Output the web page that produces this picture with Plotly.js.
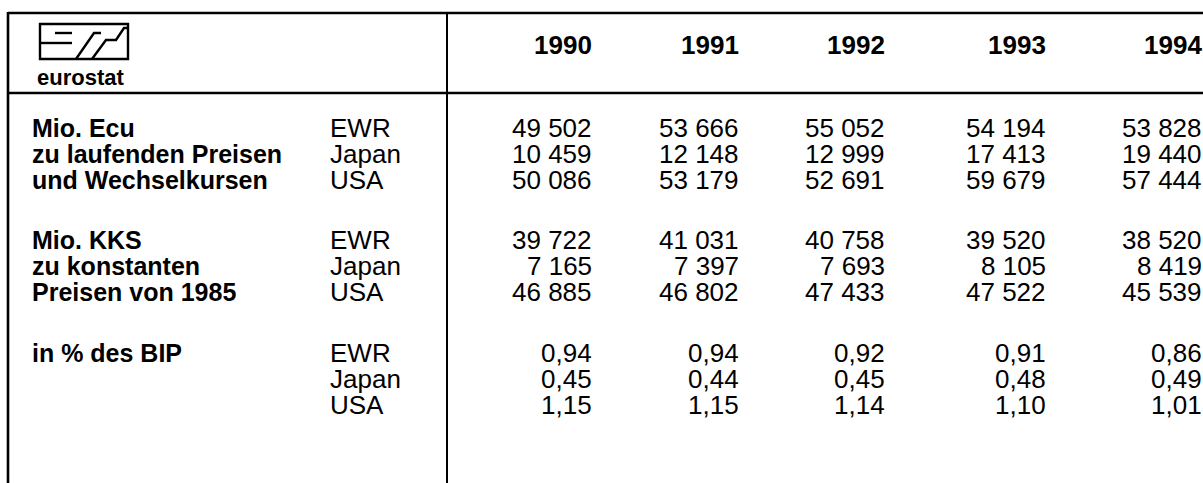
<!DOCTYPE html>
<html>
<head>
<meta charset="utf-8">
<script src="https://cdn.plot.ly/plotly-3.0.1.min.js"></script>
<style>
  html, body { margin: 0; padding: 0; background: #fff; }
  #chart { width: 1203px; height: 483px; }
</style>
</head>
<body>
<div id="chart"></div>
<script>
// ---- data ----
var years = ['1990', '1991', '1992', '1993', '1994'];
var regions = ['EWR', 'Japan', 'USA'];
var groupEcu = ['Mio. Ecu', 'zu laufenden Preisen', 'und Wechselkursen'];
var groupKks = ['Mio. KKS', 'zu konstanten', 'Preisen von 1985'];
var groupBip = ['in % des BIP'];

var ecuEWR   = [49502, 53666, 55052, 54194, 53828];
var ecuJapan = [10459, 12148, 12999, 17413, 19440];
var ecuUSA   = [50086, 53179, 52691, 59679, 57444];

var kksEWR   = [39722, 41031, 40758, 39520, 38520];
var kksJapan = [7165, 7397, 7693, 8105, 8419];
var kksUSA   = [46885, 46802, 47433, 47522, 45539];

var bipEWR   = [0.94, 0.94, 0.92, 0.91, 0.86];
var bipJapan = [0.45, 0.44, 0.45, 0.48, 0.49];
var bipUSA   = [1.15, 1.15, 1.14, 1.10, 1.01];

// ---- layout constants ----
var W = 1203, H = 483;
var colRight = [593, 740, 886, 1047, 1203];
var headerY = 45;
var groupTop = [128, 240, 353];
var rowStep = 26;
var labelX = 31;
var regionX = 329;

var FONT = 'Liberation Sans, Arial, sans-serif';
var bodyFont = {family: FONT, size: 26, color: '#000'};
var boldFont = {family: FONT, size: 25, color: '#000', weight: 'bold'};
var headFont = {family: FONT, size: 26, color: '#000', weight: 'bold'};

function fmtInt(v) {
  return String(v).replace(/\B(?=(\d{3})+(?!\d))/g, ' ');
}
function fmtDec(v) {
  return v.toFixed(2).replace('.', ',');
}

var groups = [
  {labels: groupEcu, series: [ecuEWR, ecuJapan, ecuUSA], fmt: fmtInt},
  {labels: groupKks, series: [kksEWR, kksJapan, kksUSA], fmt: fmtInt},
  {labels: groupBip, series: [bipEWR, bipJapan, bipUSA], fmt: fmtDec}
];

var ann = [];
function addText(x, y, txt, font, anchor) {
  ann.push({x: x, y: y, xref: 'x', yref: 'y', text: txt, showarrow: false,
            xanchor: anchor, yanchor: 'middle', font: font, borderpad: 0});
}

years.forEach(function (yr, j) { addText(colRight[j], headerY, yr, headFont, 'right'); });

groups.forEach(function (g, gi) {
  var y0 = groupTop[gi];
  g.labels.forEach(function (lab, i) { addText(labelX, y0 + i * rowStep, lab, boldFont, 'left'); });
  regions.forEach(function (reg, r) {
    var y = y0 + r * rowStep;
    addText(regionX, y, reg, bodyFont, 'left');
    g.series[r].forEach(function (v, j) { addText(colRight[j], y, g.fmt(v), bodyFont, 'right'); });
  });
});

// eurostat logo caption
addText(36, 77, 'eurostat', {family: FONT, size: 22, color: '#000', weight: 'bold'}, 'left');

var LW = 2.4;
var shapes = [
  // frame
  {type: 'line', x0: 8, x1: W, y0: 13, y1: 13, line: {color: '#000', width: 2.6}},
  {type: 'line', x0: 8, x1: 8, y0: 12, y1: H, line: {color: '#000', width: 2.6}},
  {type: 'line', x0: 8, x1: W, y0: 93, y1: 93, line: {color: '#000', width: 2.6}},
  {type: 'line', x0: 447, x1: 447, y0: 13, y1: H, line: {color: '#000', width: 2}},
  // logo
  {type: 'rect', x0: 40, x1: 128, y0: 24, y1: 59, line: {color: '#000', width: LW}},
  {type: 'path', path: 'M 55 33 L 72 33', line: {color: '#000', width: LW}},
  {type: 'path', path: 'M 40 43 L 72 43', line: {color: '#000', width: LW}},
  {type: 'path', path: 'M 76 59 L 94 33 L 101 33', line: {color: '#000', width: LW}},
  {type: 'path', path: 'M 92 59 L 106 40 L 116 40 L 124 28 L 128 28', line: {color: '#000', width: LW}}
];

var layout = {
  width: W, height: H,
  margin: {l: 0, r: 0, t: 0, b: 0, pad: 0},
  paper_bgcolor: '#fff', plot_bgcolor: '#fff',
  showlegend: false,
  xaxis: {range: [0, W], visible: false, fixedrange: true},
  yaxis: {range: [H, 0], visible: false, fixedrange: true},
  annotations: ann,
  shapes: shapes
};

Plotly.newPlot('chart', [{x: [], y: [], type: 'scatter', mode: 'markers', hoverinfo: 'skip'}], layout,
  {staticPlot: true, displayModeBar: false});
</script>
</body>
</html>
